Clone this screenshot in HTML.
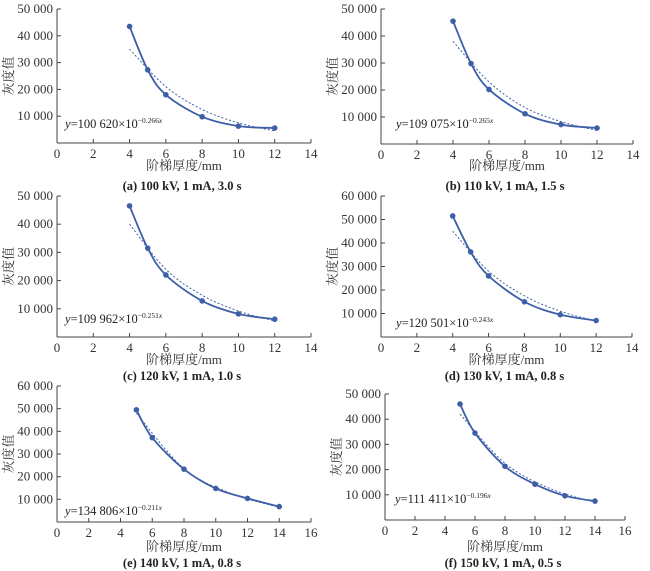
<!DOCTYPE html>
<html><head><meta charset="utf-8"><style>
body{margin:0;background:#fff}
svg{display:block;font-family:"Liberation Serif","Noto Serif CJK SC",serif}
</style></head><body>
<svg id="c" width="650" height="571" viewBox="0 0 650 571"></svg>
<script>
const xsA=[4,5,6,8,10,12], ysA=[43500,27300,18000,9800,6300,5600];
const fxA=[4,6,8,10,12], fyA=[35000,21000,12500,7500,4500];
const xsB=[4,5,6,8,10,12], ysB=[45500,29800,20200,11200,7200,5900];
const fxB=[4,6,8,10,12], fyB=[38000,23000,13500,8300,5000];
const xsC=[4,5,6,8,10,12], ysC=[46500,31500,22000,12800,8200,6300];
const fxC=[4,6,8,10,12], fyC=[40000,24000,14800,9200,5700];
const xsD=[4,5,6,8,10,12], ysD=[51500,36200,26000,15000,9500,7000];
const fxD=[4,6,8,10,12], fyD=[45000,28000,17500,11000,6800];
const xsE=[5,6,8,10,12,14], ysE=[49500,37200,23300,14800,10400,6800];
const fxE=[5,8,11,14], fyE=[48000,23500,12500,6500];
const xsF=[5,6,8,10,12,14], ysF=[46000,34500,21300,14200,9600,7500];
const fxF=[5,8,11,14], fyF=[42000,22500,12500,7000];
const xTicks14=[0,2,4,6,8,10,12,14], xTicks16=[0,2,4,6,8,10,12,14,16];
const yTicks5=[10000,20000,30000,40000,50000], yTicks6=[10000,20000,30000,40000,50000,60000];
const captions=["(a) 100 kV, 1 mA, 3.0 s","(b) 110 kV, 1 mA, 1.5 s","(c) 120 kV, 1 mA, 1.0 s","(d) 130 kV, 1 mA, 0.8 s","(e) 140 kV, 1 mA, 0.8 s","(f) 150 kV, 1 mA, 0.5 s"];
const eqA=["100 620","−0.266"],eqB=["109 075","−0.265"],eqC=["109 962","−0.251"],eqD=["120 501","−0.243"],eqE=["134 806","−0.211"],eqF=["111 411","−0.196"];

const panels=[
 {xs:xsA,ys:ysA,fx:fxA,fy:fyA,xt:xTicks14,yt:yTicks5,eq:eqA,g:{x0:57,x1:311,y0:143,yt:9,ex:65,ey:128,cy:190,ty:170}},
 {xs:xsB,ys:ysB,fx:fxB,fy:fyB,xt:xTicks14,yt:yTicks5,eq:eqB,g:{x0:381,x1:633,y0:144,yt:9,ex:396,ey:128,cy:190,ty:170}},
 {xs:xsC,ys:ysC,fx:fxC,fy:fyC,xt:xTicks14,yt:yTicks5,eq:eqC,g:{x0:57,x1:311,y0:337,yt:196,ex:65,ey:323,cy:380,ty:364}},
 {xs:xsD,ys:ysD,fx:fxD,fy:fyD,xt:xTicks14,yt:yTicks6,eq:eqD,g:{x0:381,x1:632,y0:337,yt:196,ex:396,ey:327,cy:380,ty:364}},
 {xs:xsE,ys:ysE,fx:fxE,fy:fyE,xt:xTicks16,yt:yTicks6,eq:eqE,g:{x0:57,x1:311,y0:522,yt:386,ex:65,ey:515,cy:567,ty:551}},
 {xs:xsF,ys:ysF,fx:fxF,fy:fyF,xt:xTicks16,yt:yTicks5,eq:eqF,g:{x0:385,x1:625,y0:520,yt:394,ex:395,ey:503,cy:567,ty:551}}
];
const NS="http://www.w3.org/2000/svg", svg=document.getElementById('c');
function mk(t,a,p,txt){const e=document.createElementNS(NS,t);for(const k in a)e.setAttribute(k,a[k]);if(txt!=null)e.textContent=txt;(p||svg).appendChild(e);return e;}
function fmt(v){const s=String(v);return s.length>3?s.slice(0,-3)+" "+s.slice(-3):s;}
function smooth(pts){let d="M"+pts[0][0]+","+pts[0][1];for(let i=0;i<pts.length-1;i++){const p0=pts[Math.max(0,i-1)],p1=pts[i],p2=pts[i+1],p3=pts[Math.min(pts.length-1,i+2)];const c1=[p1[0]+(p2[0]-p0[0])/6,p1[1]+(p2[1]-p0[1])/6],c2=[p2[0]-(p3[0]-p1[0])/6,p2[1]-(p3[1]-p1[1])/6];d+=` C${c1[0]},${c1[1]} ${c2[0]},${c2[1]} ${p2[0]},${p2[1]}`;}return d;}
const col="#3d5fa8", ax="#444";
panels.forEach((P,i)=>{
 const g=P.g, xmax=P.xt[P.xt.length-1], ymax=P.yt[P.yt.length-1];
 const X=v=>g.x0+(g.x1-g.x0)*v/xmax, Y=v=>g.y0-(g.y0-g.yt)*v/ymax;
 const grp=mk('g',{});
 
 
 mk('line',{x1:g.x0,y1:g.y0,x2:g.x1,y2:g.y0,stroke:ax,'stroke-width':1},grp);
 mk('line',{x1:g.x0,y1:g.y0,x2:g.x0,y2:g.yt,stroke:ax,'stroke-width':1},grp);
 P.xt.forEach(v=>{mk('line',{x1:X(v),y1:g.y0,x2:X(v),y2:g.y0-4,stroke:ax},grp);
  const t=mk('text',{x:X(v),y:g.y0+15,'text-anchor':'middle','font-size':13,fill:'#333'},grp,v);
  });
 P.yt.forEach(v=>{mk('line',{x1:g.x0,y1:Y(v),x2:g.x0+4,y2:Y(v),stroke:ax},grp);
  const t=mk('text',{x:g.x0-4,y:Y(v)+4,'text-anchor':'end','font-size':13,fill:'#333'},grp,fmt(v));
  });
 const yl=mk('text',{x:0,y:0,transform:`translate(${g.x0-44},${(g.y0+g.yt)/2}) rotate(-90)`,'text-anchor':'middle','font-size':13,fill:'#333'},grp,'灰度值');
 
 const xl=mk('text',{x:(g.x0+g.x1)/2,y:g.ty,'text-anchor':'middle','font-size':13,fill:'#333'},grp,'阶梯厚度/mm');
 
 const cp=mk('text',{x:(g.x0+g.x1)/2-2,y:g.cy,'text-anchor':'middle','font-size':12.5,'font-weight':'bold',fill:'#222'},grp,captions[i]);
 
 const fit=mk('path',{d:smooth(P.fx.map((v,k)=>[X(v),Y(P.fy[k])])),fill:'none',stroke:col,'stroke-width':1,'stroke-dasharray':'2,2'},grp);
 
 const ln=mk('path',{d:smooth(P.xs.map((v,k)=>[X(v),Y(P.ys[k])])),fill:'none',stroke:col,'stroke-width':1.8},grp);
 
 P.xs.forEach((v,k)=>{const c=mk('circle',{cx:X(v),cy:Y(P.ys[k]),r:2.8,fill:col},grp);
  });
 const eq=mk('text',{x:g.ex,y:g.ey,'font-size':12.5,fill:'#222'},grp);
 
 mk('tspan',{'font-style':'italic'},eq,'y');
 mk('tspan',{},eq,'='+P.eq[0]+'×10');
 mk('tspan',{'font-size':7.5,dy:-5},eq,P.eq[1]);
 mk('tspan',{'font-size':7.5,'font-style':'italic'},eq,'x');
});
</script>
</body></html>
